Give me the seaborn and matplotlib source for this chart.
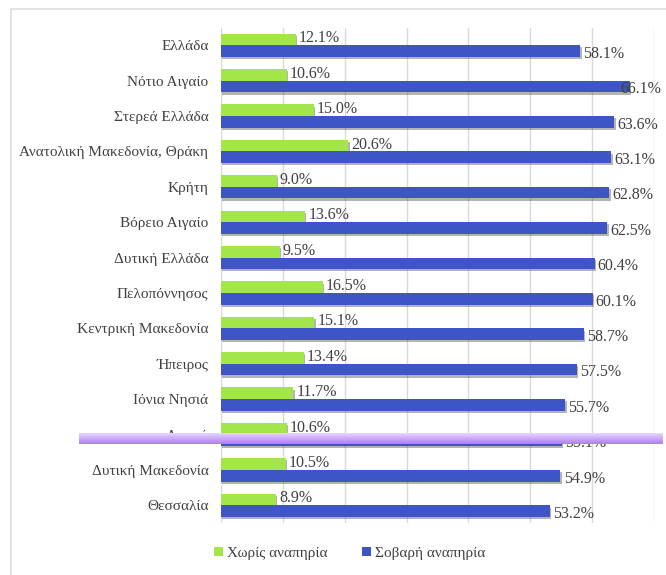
import matplotlib
matplotlib.use("Agg")
import matplotlib.pyplot as plt
import matplotlib.patheffects as pe
from matplotlib.patches import Rectangle
from matplotlib.lines import Line2D
import numpy as np
import pandas as pd
import seaborn as sns

regions = ["Ελλάδα", "Νότιο Αιγαίο", "Στερεά Ελλάδα", "Ανατολική Μακεδονία, Θράκη",
           "Κρήτη", "Βόρειο Αιγαίο", "Δυτική Ελλάδα", "Πελοπόννησος",
           "Κεντρική Μακεδονία", "Ήπειρος", "Ιόνια Νησιά", "Αττική",
           "Δυτική Μακεδονία", "Θεσσαλία"]
no_disability = [12.1, 10.6, 15.0, 20.6, 9.0, 13.6, 9.5, 16.5, 15.1, 13.4, 11.7, 10.6, 10.5, 8.9]
severe_disability = [58.1, 66.1, 63.6, 63.1, 62.8, 62.5, 60.4, 60.1, 58.7, 57.5, 55.7, 55.1, 54.9, 53.2]
series_names = ["Χωρίς αναπηρία", "Σοβαρή αναπηρία"]
x_ticks = [0, 10, 20, 30, 40, 50, 60, 70]

df = pd.DataFrame({
    "region": regions * 2,
    "value": no_disability + severe_disability,
    "series": [series_names[0]] * len(regions) + [series_names[1]] * len(regions),
})

sns.set_theme(style="white")
plt.rcParams["font.family"] = ["Liberation Serif", "DejaVu Serif"]

text_color = "#404040"
green = "#a2e64a"
blue = "#3f55c6"

fig = plt.figure(figsize=(6.66, 5.75), dpi=100)
ax = fig.add_axes([0.3318, 0.0904, 0.650, 0.8617])

sns.barplot(data=df, y="region", x="value", hue="series", hue_order=series_names,
            order=regions, orient="h", width=0.66, palette=[green, blue],
            saturation=1, ax=ax, legend=False, linewidth=0, zorder=3)

shadow = [pe.SimplePatchShadow(offset=(1.0, -1.6), shadow_rgbFace="#444444", alpha=0.4),
          pe.Normal()]
for cont in ax.containers:
    for bar in cont:
        bar.set_path_effects(shadow)

# value labels (kept inside the figure near the right edge)
for cont, dy in zip(ax.containers, [-0.03, 0.08]):
    for bar in cont:
        w = bar.get_width()
        yc = bar.get_y() + bar.get_height() / 2 + dy
        ax.text(min(w + 0.5, 64.6), yc, f"{w:.1f}%", va="center", ha="left",
                fontsize=11.5, color=text_color, zorder=5)

ax.set_xlim(0, 70)
ax.set_xticks(x_ticks)
ax.set_xticklabels([])
ax.xaxis.grid(True, color="#d9d9d9", linewidth=1, zorder=0)
ax.yaxis.grid(False)
for s in ax.spines.values():
    s.set_visible(False)
ax.tick_params(axis="y", length=0, pad=9, labelsize=11, labelcolor=text_color)
ax.tick_params(axis="x", length=0)
ax.set_xlabel("")
ax.set_ylabel("")

# legend
handles = [Rectangle((0, 0), 1, 1, facecolor=c, edgecolor="none") for c in [green, blue]]
fig.legend(handles, series_names, loc="center", bbox_to_anchor=(0.525, 0.038), ncol=2,
           frameon=False, fontsize=11, handlelength=0.6, handleheight=0.6,
           handletextpad=0.3, columnspacing=2.2, labelcolor=text_color)

# outer frame: left and top edges
fx, fy = 11 / 666, 1 - 9 / 575
fig.add_artist(Line2D([fx, fx], [0, fy], transform=fig.transFigure, color="#dedede", lw=1.2))
fig.add_artist(Line2D([fx, 1], [fy, fy], transform=fig.transFigure, color="#dedede", lw=1.2))

# lavender highlight band
band = fig.add_axes([79 / 666, 1 - 444 / 575, 584 / 666, 11 / 575])
top = np.array(matplotlib.colors.to_rgb("#e6d4ff"))
bot = np.array(matplotlib.colors.to_rgb("#b07ff2"))
t = np.linspace(0, 1, 20)[:, None, None]
grad = top * (1 - t) + bot * t
band.imshow(np.repeat(grad, 2, axis=1), aspect="auto", interpolation="bilinear")
band.set_axis_off()

fig.savefig("out.png", dpi=100)
